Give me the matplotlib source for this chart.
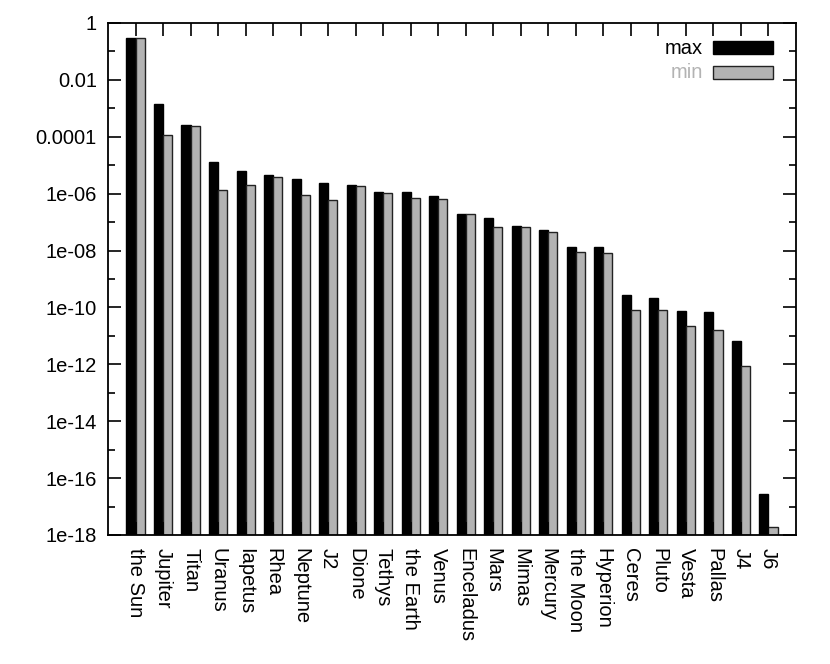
"""Log-scale bar chart of max/min values per body."""

import matplotlib

matplotlib.use("Agg")
import matplotlib.pyplot as plt
from matplotlib.patches import Rectangle
from matplotlib.ticker import FixedLocator, NullFormatter
import numpy as np

bodies = [
    "the Sun", "Jupiter", "Titan", "Uranus", "Iapetus", "Rhea", "Neptune", "J2",
    "Dione", "Tethys", "the Earth", "Venus", "Enceladus", "Mars", "Mimas",
    "Mercury", "the Moon", "Hyperion", "Ceres", "Pluto", "Vesta", "Pallas",
    "J4", "J6",
]
max_vals = [
    0.30, 1.4e-3, 2.5e-4, 1.26e-5, 6.4e-6, 4.7e-6, 3.2e-6, 2.3e-6,
    2.1e-6, 1.17e-6, 1.1e-6, 8.5e-7, 2.0e-7, 1.35e-7, 7.1e-8,
    5.4e-8, 1.35e-8, 1.3e-8, 2.8e-10, 2.2e-10, 7.3e-11, 7.1e-11,
    6.7e-12, 2.7e-17,
]
min_vals = [
    0.29, 1.2e-4, 2.4e-4, 1.4e-6, 2.0e-6, 3.9e-6, 8.7e-7, 6.0e-7,
    1.86e-6, 1.08e-6, 7.2e-7, 6.3e-7, 1.87e-7, 6.9e-8, 6.6e-8,
    4.5e-8, 8.7e-9, 8.0e-9, 8.2e-11, 7.9e-11, 2.3e-11, 1.6e-11,
    9.0e-13, 1.85e-18,
]
ytick_vals = [1e-18, 1e-16, 1e-14, 1e-12, 1e-10, 1e-8, 1e-6, 1e-4, 1e-2, 1]
ytick_labels = ["1e-18", "1e-16", "1e-14", "1e-12", "1e-10", "1e-08", "1e-06",
                "0.0001", "0.01", "1"]

GRAY = "#b3b3b3"
BOTTOM = 1e-18

plt.rcParams["font.family"] = ["Liberation Sans", "DejaVu Sans"]
plt.rcParams["font.size"] = 14.5

fig = plt.figure(figsize=(8.3, 6.64), dpi=100)
ax = fig.add_axes([108 / 830, 1 - 535 / 664, 688 / 830, 512 / 664])

x = np.arange(len(bodies))
w = 0.33
ax.bar(x - w / 2, np.array(max_vals) - BOTTOM, width=w, bottom=BOTTOM,
       color="black", edgecolor="black", linewidth=1)
ax.bar(x + w / 2, np.array(min_vals) - BOTTOM, width=w, bottom=BOTTOM,
       color=GRAY, edgecolor="#222222", linewidth=1)

ax.set_yscale("log")
ax.set_ylim(1e-18, 1)
ax.set_xlim(-1, len(bodies))

ax.yaxis.set_major_locator(FixedLocator(ytick_vals))
ax.set_yticklabels(ytick_labels)
ax.yaxis.set_minor_locator(FixedLocator([10.0 ** e for e in range(-17, 0, 2)]))
ax.yaxis.set_minor_formatter(NullFormatter())

ax.set_xticks(x)
ax.set_xticklabels(bodies, rotation=-90, va="top", ha="center")
ax.tick_params(axis="both", which="major", direction="in", length=9.5, width=1.2,
               top=True, right=True, pad=8)
ax.tick_params(axis="y", which="minor", direction="in", length=5, width=1.2,
               right=True)
ax.tick_params(axis="x", which="major", pad=9)
for s in ax.spines.values():
    s.set_linewidth(1.3)

# gnuplot-style key in the top-right corner
ax.text(703 / 830, 1 - 48 / 664, "max", transform=fig.transFigure,
        ha="right", va="center", color="black")
ax.text(703 / 830, 1 - 72 / 664, "min", transform=fig.transFigure,
        ha="right", va="center", color=GRAY)
fig.add_artist(Rectangle((713 / 830, 1 - 54 / 664), 60 / 830, 13 / 664,
                         transform=fig.transFigure, facecolor="black",
                         edgecolor="black", linewidth=1))
fig.add_artist(Rectangle((713 / 830, 1 - 79 / 664), 60 / 830, 13 / 664,
                         transform=fig.transFigure, facecolor=GRAY,
                         edgecolor="#222222", linewidth=1))

fig.savefig("out.png", dpi=100)
